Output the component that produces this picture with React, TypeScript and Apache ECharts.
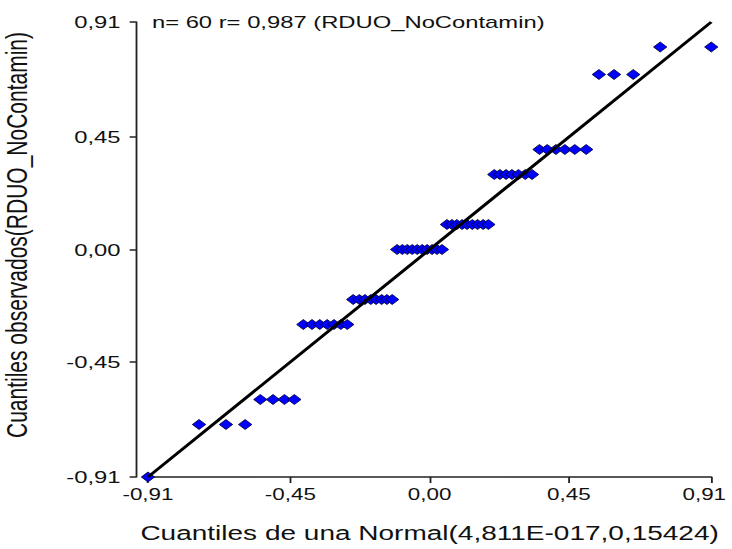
import React, { useEffect, useRef } from "react";
import * as echarts from "echarts";

// ---- data ----
const tickValues = [-0.91, -0.45, 0, 0.45, 0.91];

const theoreticalQuantiles = [
  -0.91, -0.745, -0.658, -0.596, -0.547, -0.506, -0.469, -0.437, -0.408, -0.38,
  -0.355, -0.331, -0.309, -0.287, -0.266, -0.247, -0.227, -0.209, -0.19, -0.173,
  -0.155, -0.138, -0.121, -0.105, -0.088, -0.072, -0.056, -0.04, -0.024, -0.008,
  0.008, 0.024, 0.04, 0.056, 0.072, 0.088, 0.105, 0.121, 0.138, 0.155,
  0.173, 0.19, 0.209, 0.227, 0.247, 0.266, 0.287, 0.309, 0.331, 0.355,
  0.38, 0.408, 0.437, 0.469, 0.506, 0.547, 0.596, 0.658, 0.745, 0.91,
];

const observedQuantiles = [
  -0.91, -0.7, -0.7, -0.7, -0.6, -0.6, -0.6, -0.6, -0.3, -0.3,
  -0.3, -0.3, -0.3, -0.3, -0.3, -0.2, -0.2, -0.2, -0.2, -0.2,
  -0.2, -0.2, -0.2, 0.0, 0.0, 0.0, 0.0, 0.0, 0.0, 0.0,
  0.0, 0.0, 0.0, 0.1, 0.1, 0.1, 0.1, 0.1, 0.1, 0.1,
  0.1, 0.1, 0.3, 0.3, 0.3, 0.3, 0.3, 0.3, 0.3, 0.4,
  0.4, 0.4, 0.4, 0.4, 0.4, 0.7, 0.7, 0.7, 0.81, 0.81,
];

const refLineX = [-0.91, 0.91];
const refLineY = [-0.91, 0.91];

const annotation = "n= 60 r= 0,987 (RDUO_NoContamin)";
const xTitle = "Cuantiles de una Normal(4,811E-017,0,15424)";
const yTitle = "Cuantiles observados(RDUO_NoContamin)";

// The reference picture is horizontally stretched.
const STRETCH = 1.4;
const W = 732 / STRETCH;
const H = 549;
const FONT = "'Liberation Sans', Arial, sans-serif";

const fmt = (v: number) => v.toFixed(2).replace(".", ",");
const xMax = tickValues[tickValues.length - 1];

export default function App() {
  const ref = useRef<HTMLDivElement>(null);

  useEffect(() => {
    if (!ref.current) return;
    const chart = echarts.init(ref.current, null, { renderer: "svg" });
    const points = theoreticalQuantiles.map((x, i) => [x, observedQuantiles[i]]);
    const line = refLineX.map((x, i) => [x, refLineY[i]]);

    chart.setOption({
      animation: false,
      backgroundColor: "#ffffff",
      title: {
        text: annotation,
        left: 103.5,
        top: 8,
        textStyle: { fontFamily: FONT, fontSize: 17, fontWeight: "normal", color: "#111" },
      },
      grid: { left: 105.7, right: W - 507.9, top: 22, bottom: 72, outerBoundsMode: "none", containLabel: false },
      xAxis: {
        type: "value",
        min: -0.91,
        max: 0.91,
        splitLine: { show: false },
        axisLine: { show: true, onZero: false, lineStyle: { color: "#222", width: 1.6 } },
        axisTick: { show: true, inside: false, length: 6, customValues: tickValues, lineStyle: { color: "#222", width: 1.3 } },
        axisLabel: {
          customValues: tickValues,
          formatter: (v: number) => (Math.abs(v - xMax) < 1e-9 ? `{last|${fmt(v)}}` : fmt(v)),
          rich: {
            last: { fontFamily: FONT, fontSize: 16, color: "#111", padding: [0, 10, 0, 0] },
          },
          margin: 9,
          fontFamily: FONT,
          fontSize: 16,
          color: "#111",
        },
        name: xTitle,
        nameLocation: "middle",
        nameGap: 46,
        nameTextStyle: { fontFamily: FONT, fontSize: 20, color: "#111" },
      },
      yAxis: {
        type: "value",
        min: -0.91,
        max: 0.91,
        offset: 8.6,
        splitLine: { show: false },
        axisLine: { show: true, onZero: false, lineStyle: { color: "#222", width: 1.3 } },
        axisTick: { show: true, inside: false, length: 4.5, customValues: tickValues, lineStyle: { color: "#222", width: 1.5 } },
        axisLabel: {
          customValues: tickValues,
          formatter: fmt,
          margin: 11,
          fontFamily: FONT,
          fontSize: 17,
          color: "#111",
        },
        name: yTitle,
        nameLocation: "middle",
        nameRotate: 90,
        nameGap: 75,
        nameTextStyle: { fontFamily: FONT, fontSize: 21, color: "#111", padding: [0, 0, 0, 29] },
      },
      series: [
        {
          type: "scatter",
          data: points,
          symbol: "diamond",
          symbolSize: [9.5, 10],
          itemStyle: { color: "#0000ff", borderColor: "#000033", borderWidth: 0.7, opacity: 1 },
          z: 2,
        },
        {
          type: "line",
          data: line,
          showSymbol: false,
          lineStyle: { color: "#000", width: 2.6 },
          z: 3,
        },
      ],
    });
    return () => chart.dispose();
  }, []);

  return (
    <div
      ref={ref}
      style={{
        position: "fixed",
        left: 0,
        top: 0,
        width: W,
        height: H,
        transform: `scaleX(${STRETCH})`,
        transformOrigin: "0 0",
      }}
    />
  );
}
